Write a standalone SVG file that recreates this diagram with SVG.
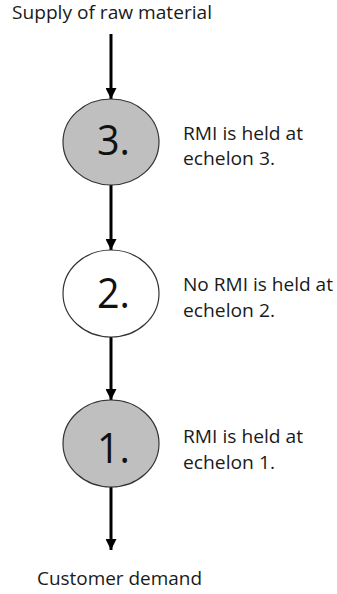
<svg xmlns="http://www.w3.org/2000/svg" width="337" height="594" viewBox="0 0 337 594">
<style>
.t{font-family:"Open Sans","Liberation Sans",sans-serif;font-size:19px;fill:#1a1a1a}
.n{font-family:"Open Sans","Liberation Sans",sans-serif;font-size:42px;fill:#111}
.c{stroke:#333;stroke-width:1.2}
.e{stroke:#000;stroke-width:3;fill:none;marker-end:url(#ah)}
</style>
<defs>
<marker id="ah" markerUnits="userSpaceOnUse" markerWidth="12" markerHeight="11" refX="12" refY="6" orient="auto" viewBox="0 0 12 12">
<path d="M0,0 L12,6 L0,12 Z" fill="#000"/>
</marker>
</defs>
<g id="connectors">
<line class="e" x1="111" y1="34" x2="111" y2="99"/>
<line class="e" x1="111" y1="185" x2="111" y2="250"/>
<line class="e" x1="111" y1="337" x2="111" y2="400"/>
<line class="e" x1="111" y1="487" x2="111" y2="550"/>
</g>
<g id="supply"><text class="t" x="12" y="19" textLength="200" lengthAdjust="spacingAndGlyphs">Supply of raw material</text></g>
<g id="node3">
<ellipse class="c" cx="111" cy="142" rx="48" ry="43" fill="#bfbfbf"/>
<text class="n" x="97" y="155" textLength="33" lengthAdjust="spacingAndGlyphs">3.</text>
</g>
<g id="label3">
<text class="t" x="183" y="140" textLength="120" lengthAdjust="spacingAndGlyphs">RMI is held at</text>
<text class="t" x="183" y="165" textLength="92" lengthAdjust="spacingAndGlyphs">echelon 3.</text>
</g>
<g id="node2">
<ellipse class="c" cx="111" cy="293.5" rx="48" ry="43.5" fill="#fff"/>
<text class="n" x="97" y="308" textLength="33" lengthAdjust="spacingAndGlyphs">2.</text>
</g>
<g id="label2">
<text class="t" x="183" y="291" textLength="150" lengthAdjust="spacingAndGlyphs">No RMI is held at</text>
<text class="t" x="183" y="317" textLength="92" lengthAdjust="spacingAndGlyphs">echelon 2.</text>
</g>
<g id="node1">
<ellipse class="c" cx="111" cy="443.5" rx="48" ry="43.5" fill="#bfbfbf"/>
<text class="n" x="97" y="463" textLength="33" lengthAdjust="spacingAndGlyphs">1.</text>
</g>
<g id="label1">
<text class="t" x="183" y="443" textLength="120" lengthAdjust="spacingAndGlyphs">RMI is held at</text>
<text class="t" x="183" y="469" textLength="92" lengthAdjust="spacingAndGlyphs">echelon 1.</text>
</g>
<g id="demand"><text class="t" x="37" y="585" textLength="165" lengthAdjust="spacingAndGlyphs">Customer demand</text></g>
</svg>
